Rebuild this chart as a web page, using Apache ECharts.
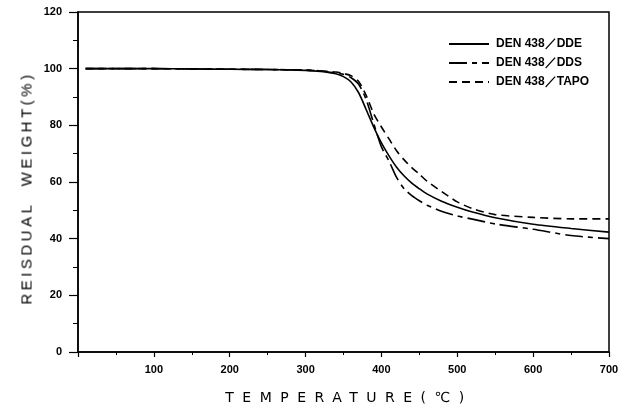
<!DOCTYPE html>
<html><head><meta charset="utf-8">
<script src="https://cdn.jsdelivr.net/npm/echarts@6/dist/echarts.min.js"></script>
<style>
html,body{margin:0;padding:0;background:#fff;}
#c{width:626px;height:415px;position:relative;}
.xt{position:absolute;left:0;width:626px;top:389px;text-align:center;font-family:"DejaVu Sans",sans-serif;font-size:14px;letter-spacing:8.5px;color:#000;padding-left:72px;box-sizing:border-box;}
.yt{position:absolute;left:26px;top:188px;transform:translate(-50%,-50%) rotate(-90deg);white-space:nowrap;font-family:"Liberation Sans",Arial,sans-serif;font-size:15px;letter-spacing:3.5px;color:#000;}
</style>
</head><body>
<div id="c"></div>
<div class="xt">TEMPERATURE(℃)</div>
<div class="yt">REISDUAL&nbsp;&nbsp;WEIGHT(%)</div>
<script>
const temps = [10,50,100,150,200,250,300,320,340,350,360,370,380,390,400,410,420,430,440,450,460,480,500,520,550,600,650,700];
const dde  = [100,100,100,99.9,99.8,99.7,99.4,99.0,98.2,97.2,95.3,91.5,85.5,79.3,73.8,69.2,65.2,62.1,59.6,57.6,55.8,53.1,51.1,49.4,47.4,45.1,43.6,42.3];
const dds  = [100,100,100,99.9,99.8,99.7,99.5,99.2,98.5,98,96.8,94.5,89,80.5,72.4,67.4,61.6,57.6,55.2,53.4,51.8,49.6,48,46.9,45.2,43.3,41.1,40];
const tapo = [100,100,100,99.9,99.8,99.7,99.5,99.2,98.8,98.3,97.5,95.5,90.5,84,79.4,75.2,71,67.8,65.1,62.8,60.3,56.5,53,50.6,48.5,47.5,47,47];
const names = ['DEN 438／DDE','DEN 438／DDS','DEN 438／TAPO'];
const xTicks = [0,100,200,300,400,500,600,700];
const yTicks = [0,20,40,60,80,100,120];

function pairs(v){ return temps.map((t,i)=>[t,v[i]]); }
const chart = echarts.init(document.getElementById('c'), null, {renderer:'canvas'});
const lbl = {color:'#000',fontFamily:'Liberation Sans, Arial, sans-serif',fontSize:11,fontWeight:'bold'};
chart.setOption({
  animation:false,
  grid:{left:78,right:17,top:12,bottom:63,show:true,borderColor:'#000',borderWidth:1.5},
  legend:{
    orient:'vertical', left:443, top:33, itemWidth:40, itemHeight:12, itemGap:7,
    itemStyle:{opacity:0},
    textStyle:{color:'#000',fontFamily:'Liberation Sans, Arial, sans-serif',fontSize:12,fontWeight:'bold',padding:[0,0,0,2]},
    data:names
  },
  xAxis:{type:'value',min:xTicks[0],max:xTicks[xTicks.length-1],interval:100,
    axisLine:{lineStyle:{color:'#000',width:1.5}},
    axisTick:{show:true,length:5,lineStyle:{color:'#000',width:1.2}},
    minorTick:{show:true,splitNumber:2,length:3,lineStyle:{color:'#000',width:1}},
    splitLine:{show:false},
    axisLabel:Object.assign({margin:12,formatter:v=>v===0?'':String(v)},lbl)},
  yAxis:{type:'value',min:yTicks[0],max:yTicks[yTicks.length-1],interval:20,
    axisLine:{lineStyle:{color:'#000',width:1.5}},
    axisTick:{show:true,length:9,lineStyle:{color:'#000',width:1.2}},
    minorTick:{show:true,splitNumber:2,length:5,lineStyle:{color:'#000',width:1}},
    splitLine:{show:false},
    axisLabel:Object.assign({margin:16},lbl)},
  series:[
    {name:names[0],type:'line',data:pairs(dde),symbol:'none',smooth:0.25,lineStyle:{color:'#000',width:1.6,type:'solid'},itemStyle:{color:'#000'}},
    {name:names[1],type:'line',data:pairs(dds),symbol:'none',smooth:0.25,lineStyle:{color:'#000',width:1.6,type:[18,5,5,5]},itemStyle:{color:'#000'}},
    {name:names[2],type:'line',data:pairs(tapo),symbol:'none',smooth:0.25,lineStyle:{color:'#000',width:1.6,type:[8,5]},itemStyle:{color:'#000'}}
  ]
});
</script>
</body></html>
